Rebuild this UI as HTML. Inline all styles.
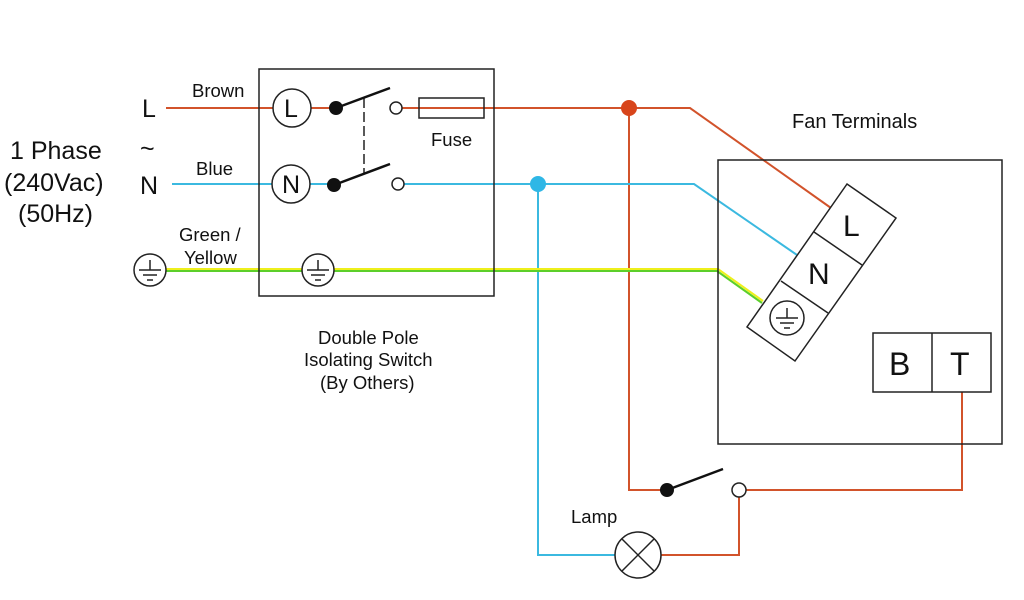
<!DOCTYPE html>
<html><head><style>body{margin:0;background:#fff}svg{display:block}</style></head><body>
<svg width="1024" height="600" viewBox="0 0 1024 600" xmlns="http://www.w3.org/2000/svg" font-family="Liberation Sans, sans-serif">
<rect width="1024" height="600" fill="#fff"/>
<g fill="none" stroke-width="2">
<polyline points="166,108 273,108" stroke="#d2532b"/>
<polyline points="311,108 336,108" stroke="#d2532b"/>
<polyline points="402,108 690,108 831,208" stroke="#d2532b"/>
<polyline points="629,108 629,490 667,490" stroke="#d2532b"/>
<polyline points="746,490 962,490 962,392" stroke="#d2532b"/>
<polyline points="739,497 739,555 661,555" stroke="#d2532b"/>
<polyline points="172,184 272,184" stroke="#3bb9e0"/>
<polyline points="310,184 334,184" stroke="#3bb9e0"/>
<polyline points="404,184 694,184 797,255" stroke="#3bb9e0"/>
<polyline points="538,184 538,555 615,555" stroke="#3bb9e0"/>
<polyline points="166,269 718,269 763,301" stroke="#eef01c" stroke-width="2"/>
<polyline points="166,271 717,271 762,303" stroke="#5ccf2a" stroke-width="2"/>
</g>
<g fill="none" stroke="#222" stroke-width="1.5">
<rect x="259" y="69" width="235" height="227"/>
<rect x="718" y="160" width="284" height="284"/>
<rect x="873" y="333" width="118" height="59"/>
<line x1="932" y1="333" x2="932" y2="392"/>
<polygon points="847,184 896,218 795,361 747,327" fill="#fff"/>
<line x1="814" y1="232" x2="862" y2="265"/>
<line x1="781" y1="281" x2="828" y2="313"/>
<circle cx="292" cy="108" r="19" fill="#fff"/>
<circle cx="291" cy="184" r="19" fill="#fff"/>
<circle cx="396" cy="108" r="6" fill="#fff"/>
<circle cx="398" cy="184" r="6" fill="#fff"/>
<rect x="419" y="98" width="65" height="20" fill="none"/>
<circle cx="739" cy="490" r="7" fill="#fff"/>
<circle cx="638" cy="555" r="23" fill="#fff"/>
<line x1="622" y1="539" x2="654" y2="571"/>
<line x1="654" y1="539" x2="622" y2="571"/>
<line x1="364" y1="98" x2="364" y2="174" stroke-dasharray="10,4"/>
</g>
<g stroke="#111" stroke-width="2.5">
<line x1="336" y1="108" x2="390" y2="88"/>
<line x1="334" y1="185" x2="390" y2="164"/>
<line x1="667" y1="490" x2="723" y2="469"/>
</g>
<g fill="#111">
<circle cx="336" cy="108" r="7"/>
<circle cx="334" cy="185" r="7"/>
<circle cx="667" cy="490" r="7"/>
</g>
<circle cx="629" cy="108" r="8" fill="#d8451b"/>
<circle cx="538" cy="184" r="8" fill="#2fb7e6"/>
<g fill="#fff" stroke="#222" stroke-width="1.5">
<circle cx="150" cy="270" r="16"/>
<circle cx="318" cy="270" r="16"/>
<circle cx="787" cy="318" r="17"/>
</g>
<g stroke="#222" stroke-width="1.5">
<path d="M150 260v10M139 270h22M143 275h14M147 280h6"/>
<path d="M318 260v10M307 270h22M311 275h14M315 280h6"/>
<path d="M787 308v10M776 318h22M780 323h14M784 328h6"/>
</g>
<g fill="#111" font-size="18.5">
<text x="192" y="97">Brown</text>
<text x="196" y="175">Blue</text>
<text x="179" y="241">Green /</text>
<text x="184" y="264">Yellow</text>
<text x="431" y="146">Fuse</text>
<text x="318" y="344">Double Pole</text>
<text x="304" y="366">Isolating Switch</text>
<text x="320" y="389">(By Others)</text>
<text x="792" y="128" font-size="20">Fan Terminals</text>
<text x="571" y="523">Lamp</text>
</g>
<g fill="#111" font-size="25">
<text x="142" y="117">L</text>
<text x="140" y="194">N</text>
<text x="140" y="157">~</text>
<text x="10" y="159">1 Phase</text>
<text x="4" y="191">(240Vac)</text>
<text x="18" y="222">(50Hz)</text>
<text x="284" y="117">L</text>
<text x="282" y="193">N</text>
<text x="843" y="236" font-size="30">L</text>
<text x="808" y="284" font-size="30">N</text>
<text x="889" y="375" font-size="32">B</text>
<text x="950" y="375" font-size="32">T</text>
</g>
</svg>
</body></html>
